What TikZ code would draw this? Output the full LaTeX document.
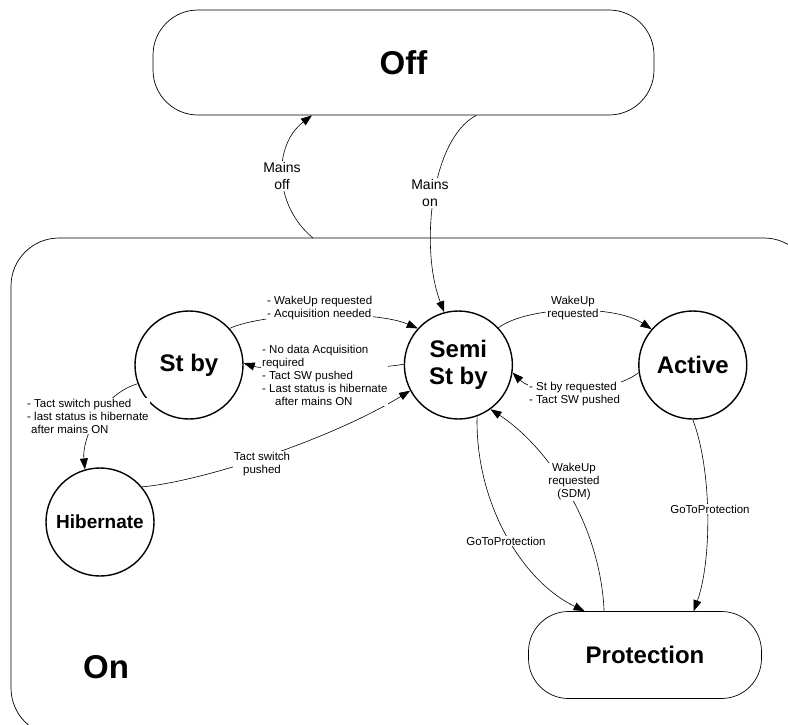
\documentclass[tikz,border=0pt]{standalone}
\usepackage{fontspec}
\setmainfont{Liberation Sans}
\usetikzlibrary{arrows.meta,positioning}

\begin{document}
\begin{tikzpicture}[x=1pt,y=-1pt,
  state/.style={circle, draw, line width=1.4pt, minimum size=108pt, inner sep=0pt, align=center, font=\fontsize{24}{27}\selectfont\bfseries},
  pill/.style={draw, line width=0.7pt, align=center, font=\fontsize{24}{27}\selectfont\bfseries},
  lbl/.style={fill=white, inner sep=1pt, align=left, font=\fontsize{11.5}{13}\selectfont},
  arr/.style={-{Triangle[length=11pt,width=8pt]}, line width=0.6pt}
]
  \useasboundingbox (0,0) rectangle (788,724);
  \clip (0,0) rectangle (788,724);

  % outer On state
  \draw[line width=0.7pt, rounded corners=48pt] (11,238) rectangle (812,736);
  \node[font=\fontsize{33}{36}\selectfont\bfseries] (onlbl) at (106,667) {On};

  \node[pill, minimum width=501pt, minimum height=105pt, rounded corners=45pt, font=\fontsize{33}{36}\selectfont\bfseries] (off) at (403.5,62.5) {Off};

  % states inside On
  \node[state] (stby) at (189,365) {St by};
  \node[state, right=160pt of stby] (semi) {Semi\\St by};
  \node[state, right=125pt of semi] (active) {Active};
  \node[state, font=\fontsize{19}{22}\selectfont\bfseries] (hib) at (100,522) {Hibernate};
  \node[pill, minimum width=233pt, minimum height=87pt, rounded corners=40pt] (prot) at (645,655) {Protection};

  \coordinate (onmo) at (313,238);

  % transitions
  \draw[arr] (onmo) .. controls (273,205) and (273,145) .. (off.210);
  \draw[arr] (off.-36) .. controls (430,140) and (420,250) .. (semi.105);
  \draw[arr] (stby.42) .. controls (265,312) and (375,310) .. (semi.138);
  \draw[arr] (semi.179) .. controls (380,370) and (265,370) .. (stby.2);
  \draw[arr] (stby.200) .. controls (100,395) and (82,440) .. (hib.106);
  \draw[arr] (hib.40) .. controls (200,482) and (330,440) .. (semi.208);
  \draw[arr] (semi.43) .. controls (530,305) and (615,305) .. (active.139);
  \draw[arr] (active.188) .. controls (610,395) and (535,395) .. (semi.-8);
  \draw[arr] (semi.-70) .. controls (475,500) and (520,580) .. (prot.144);
  \draw[arr] (prot.133) .. controls (600,520) and (545,445) .. (semi.-54);
  \draw[arr] (active.-90) .. controls (712,470) and (712,560) .. (prot.42);

  % transition labels
  \node[lbl, font=\fontsize{14}{17}\selectfont, align=center] (mainsoff) at (282,176) {Mains\\off};
  \node[lbl, font=\fontsize{14}{17}\selectfont, align=center] (mainson) at (430,193) {Mains\\on};
  \node[lbl, anchor=west] (wakeacq) at (266,308) {- WakeUp requested\\- Acquisition needed};
  \node[lbl, anchor=west] (noacq) at (261,375) {- No data Acquisition\\required\\- Tact SW pushed\\- Last status is hibernate\\\hspace*{13pt}after mains ON};
  \node[lbl, anchor=west] (tacthib) at (26,416) {- Tact switch pushed\\- last status is hibernate\\\hspace*{4pt}after mains ON};
  \node[lbl, align=center] (tactsw) at (262,464) {Tact switch\\pushed};
  \node[lbl, align=center] (wakeact) at (573,308) {WakeUp\\requested};
  \node[lbl, anchor=west] (stbyreq) at (528,394) {- St by requested\\- Tact SW pushed};
  \node[lbl, align=center] (gotoa) at (506,541) {GoToProtection};
  \node[lbl, align=center] (wakesdm) at (574,482) {WakeUp\\requested\\(SDM)};
  \node[lbl, align=center] (gotob) at (710,509) {GoToProtection};
\end{tikzpicture}
\end{document}
